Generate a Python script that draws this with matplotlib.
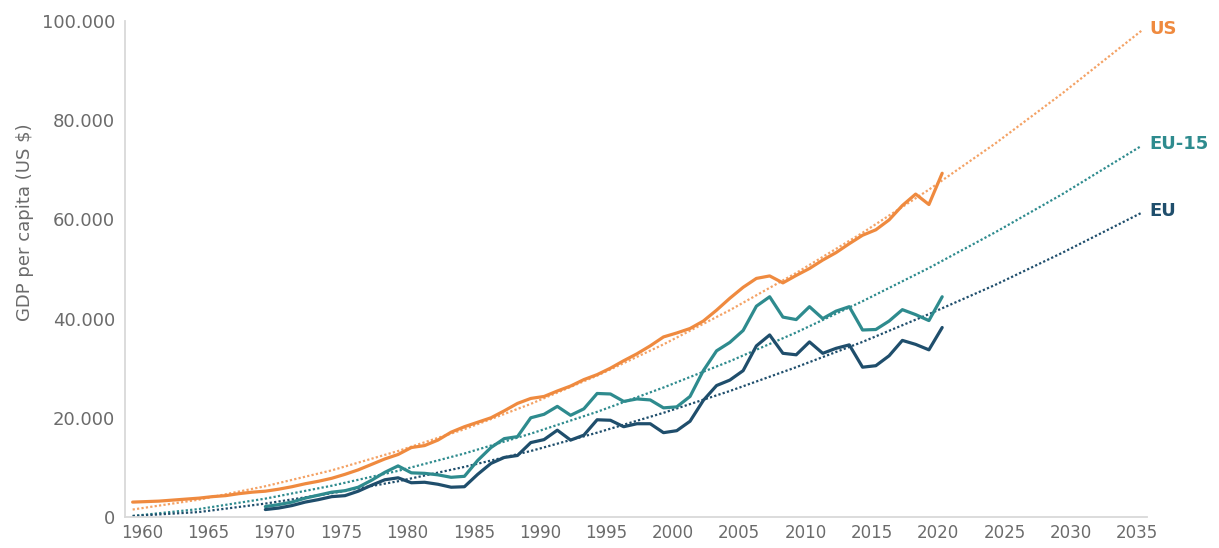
import numpy as np
from matplotlib import pyplot as plt
from matplotlib.ticker import FuncFormatter

# GDP per capita, thousands of US $
us_years = list(range(1960, 2022))
us_gdp = [3.0, 3.1, 3.2, 3.4, 3.6, 3.8, 4.1, 4.3, 4.7, 5.0,
          5.2, 5.6, 6.1, 6.7, 7.2, 7.8, 8.6, 9.5, 10.6, 11.7,
          12.6, 14.0, 14.4, 15.5, 17.1, 18.2, 19.1, 20.0, 21.4, 22.9,
          23.9, 24.3, 25.4, 26.4, 27.7, 28.7, 30.0, 31.5, 32.9, 34.5,
          36.3, 37.1, 38.0, 39.5, 41.7, 44.1, 46.3, 48.1, 48.6, 47.2,
          48.7, 50.1, 51.8, 53.3, 55.1, 56.8, 57.9, 59.9, 62.8, 65.1,
          63.0, 69.3]

eu_years = list(range(1970, 2022))
eu15_gdp = [2.1, 2.5, 3.0, 3.8, 4.4, 5.0, 5.3, 6.0, 7.4, 9.0,
            10.3, 8.9, 8.8, 8.5, 8.0, 8.2, 11.4, 14.0, 15.8, 16.2,
            20.0, 20.7, 22.3, 20.5, 21.8, 24.9, 24.8, 23.3, 23.8, 23.6,
            22.0, 22.2, 24.3, 29.5, 33.5, 35.2, 37.6, 42.5, 44.4, 40.3,
            39.8, 42.4, 40.0, 41.5, 42.4, 37.7, 37.8, 39.5, 41.8, 40.8,
            39.6, 44.4]
eu_gdp = [1.5, 1.8, 2.3, 3.0, 3.5, 4.1, 4.3, 5.2, 6.4, 7.5,
          7.9, 6.9, 7.0, 6.6, 6.0, 6.1, 8.6, 10.8, 12.0, 12.4,
          15.0, 15.6, 17.5, 15.5, 16.5, 19.6, 19.5, 18.2, 18.8, 18.8,
          17.0, 17.4, 19.3, 23.5, 26.5, 27.6, 29.5, 34.5, 36.7, 33.0,
          32.7, 35.3, 33.0, 34.0, 34.7, 30.2, 30.5, 32.5, 35.6, 34.8,
          33.7, 38.2]

# dotted trend lines, read every 5 years up to 2036
trend_years = [1960, 1965, 1970, 1975, 1980, 1985, 1990, 1995, 2000,
               2005, 2010, 2015, 2020, 2025, 2030, 2036]
us_trend = [1.5, 3.5, 6.2, 9.4, 13.3, 17.7, 22.8, 28.5, 34.8,
            41.7, 49.2, 57.3, 66.0, 75.3, 85.3, 98.0]
eu15_trend = [0.2, 1.6, 3.7, 6.3, 9.3, 12.8, 16.8, 21.2, 26.1,
              31.4, 37.2, 43.5, 50.2, 57.4, 65.0, 74.8]
eu_trend = [0.2, 1.0, 2.7, 4.8, 7.2, 10.1, 13.3, 17.0, 21.0,
            25.4, 30.2, 35.3, 40.9, 46.8, 53.2, 61.3]

tick_years = list(range(1960, 2036, 5))
labels = ['US', 'EU-15', 'EU']

c_us = '#EF8A3F'
c_us_trend = '#F4A265'
c_eu15 = '#2E8B8E'
c_eu = '#1F4E6C'
c_grey = '#6b6b6b'


def thousands(v, pos):
    return '{:,.0f}'.format(v).replace(',', '.')


fig = plt.figure(figsize=(12.19, 5.48), dpi=100)
ax = fig.add_axes([0.1025, 0.0566, 0.8384, 0.9051])

k = 1000
ax.plot(trend_years, np.array(us_trend) * k, color=c_us_trend, lw=1.6, ls=(0, (1, 1)))
ax.plot(trend_years, np.array(eu15_trend) * k, color=c_eu15, lw=1.6, ls=(0, (1, 1)))
ax.plot(trend_years, np.array(eu_trend) * k, color=c_eu, lw=1.6, ls=(0, (1, 1)))

ax.plot(us_years, np.array(us_gdp) * k, color=c_us, lw=2.3, solid_capstyle='round')
ax.plot(eu_years, np.array(eu15_gdp) * k, color=c_eu15, lw=2.3, solid_capstyle='round')
ax.plot(eu_years, np.array(eu_gdp) * k, color=c_eu, lw=2.3, solid_capstyle='round')

ends = [us_trend[-1], eu15_trend[-1], eu_trend[-1]]
for lab, val, col in zip(labels, ends, [c_us, c_eu15, c_eu]):
    ax.text(trend_years[-1] + 0.6, val * k + 400, lab, color=col, fontsize=13,
            fontweight='bold', ha='left', va='center', clip_on=False)

ax.set_xlim(1959.42, 2036.43)
ax.set_ylim(0, 100000)
ax.set_xticks(np.array(tick_years) + 0.7)
ax.set_xticklabels([str(y) for y in tick_years])
ax.set_yticks(range(0, 100001, 20000))
ax.yaxis.set_major_formatter(FuncFormatter(thousands))
ax.tick_params(length=0, colors=c_grey)
ax.tick_params(axis='y', pad=7, labelsize=13)
ax.tick_params(axis='x', pad=5, labelsize=12)

for side in ['top', 'right']:
    ax.spines[side].set_visible(False)
for side in ['left', 'bottom']:
    ax.spines[side].set_color('#d9d9d9')
    ax.spines[side].set_linewidth(1.3)

fig.text(25 / 1219, 1 - 222 / 548, 'GDP per capita (US $)', rotation=90,
         ha='center', va='center', fontsize=13, color=c_grey)

fig.savefig('out.png', dpi=100)
